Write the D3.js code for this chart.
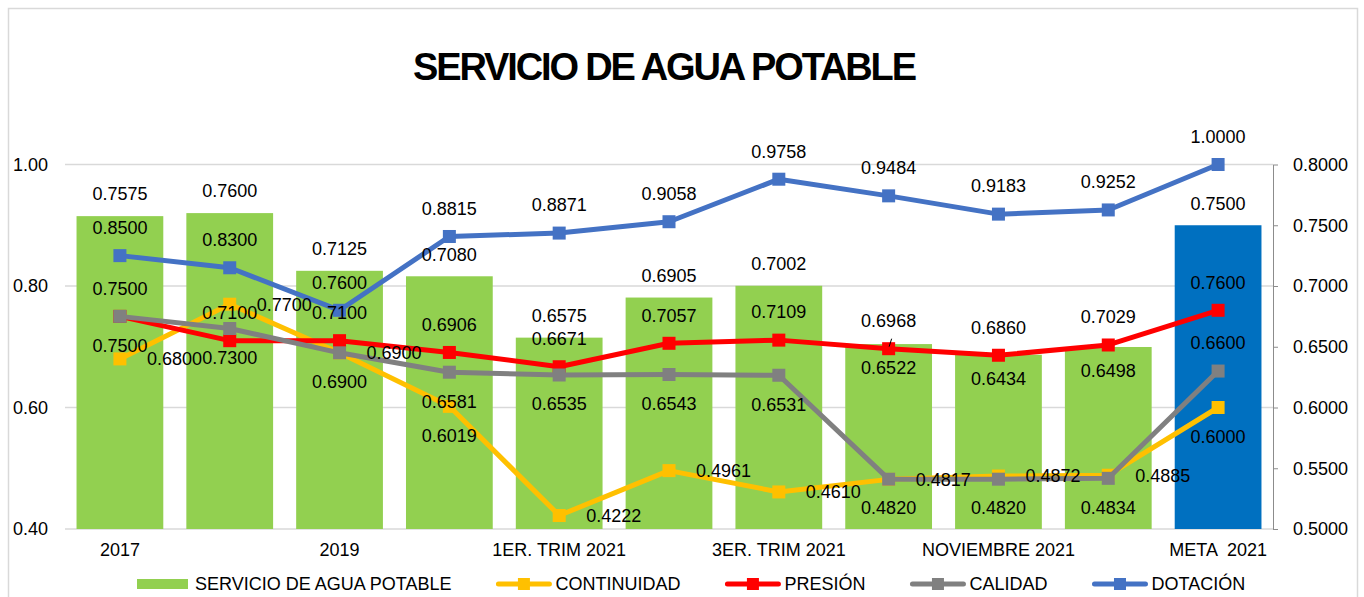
<!DOCTYPE html>
<html>
<head>
<meta charset="utf-8">
<script src="https://cdn.jsdelivr.net/npm/d3@7"></script>
<style>
    body { margin: 0; background: #fff; }
    svg { display: block; font-family: "Liberation Sans", Arial, sans-serif; }
</style>
</head>
<body>
<svg id="chart" width="1364" height="597"></svg>
<script>
const categories = ["2017", "2018", "2019", "2020", "1ER. TRIM 2021", "2DO. TRIM 2021",
    "3ER. TRIM 2021", "OCTUBRE 2021", "NOVIEMBRE 2021", "DICIEMBRE 2021", "META  2021"];

const servicio   = [0.7575, 0.7600, 0.7125, 0.7080, 0.6575, 0.6905, 0.7002, 0.6522, 0.6434, 0.6498, 0.7500];
const continuidad = [0.6800, 0.7700, 0.6900, 0.6019, 0.4222, 0.4961, 0.4610, 0.4817, 0.4872, 0.4885, 0.6000];
const presion    = [0.7500, 0.7100, 0.7100, 0.6906, 0.6671, 0.7057, 0.7109, 0.6968, 0.6860, 0.7029, 0.7600];
const calidad    = [0.7500, 0.7300, 0.6900, 0.6581, 0.6535, 0.6543, 0.6531, 0.4820, 0.4820, 0.4834, 0.6600];
const dotacion   = [0.8500, 0.8300, 0.7600, 0.8815, 0.8871, 0.9058, 0.9758, 0.9484, 0.9183, 0.9252, 1.0000];

const ticksLeft  = [0.40, 0.60, 0.80, 1.00];
const ticksRight = [0.50, 0.55, 0.60, 0.65, 0.70, 0.75, 0.80];

// where each data label sits: a = above, b = below, r = right, i = inside end
const placeBars = ["a", "a", "a", "a", "a", "a", "a", "i", "i", "i", "a"];
const placeLines = {
    CONTINUIDAD: ["r", "r", "b", "b", "r", "r", "r", "r", "r", "r", "b"],
    "PRESIÓN":   ["a", "a", "a", "a", "a", "a", "a", "a", "a", "a", "a"],
    CALIDAD:     ["b", "b", "r", "b", "b", "b", "b", "b", "b", "b", "a"],
    "DOTACIÓN":  ["a", "a", "a", "a", "a", "a", "a", "a", "a", "a", "a"]
};

const lineSeries = [
    { name: "CONTINUIDAD", values: continuidad, color: "#FFC000" },
    { name: "PRESIÓN", values: presion, color: "#FF0000" },
    { name: "CALIDAD", values: calidad, color: "#808080" },
    { name: "DOTACIÓN", values: dotacion, color: "#4472C4" }
];

const area = { left: 65, right: 1273, top: 164.5, bottom: 529 };
const fmt4 = d3.format(".4f");

const svg = d3.select("#chart");

svg.append("rect")
    .attr("x", 8.5).attr("y", 8.5)
    .attr("width", 1349).attr("height", 700)
    .attr("fill", "#fff")
    .attr("stroke", "#d9d9d9")
    .attr("stroke-width", 1.5);

svg.append("text")
    .attr("x", 665).attr("y", 80)
    .attr("text-anchor", "middle")
    .attr("font-size", 38)
    .attr("font-weight", "bold")
    .attr("textLength", 504)
    .attr("lengthAdjust", "spacing")
    .text("SERVICIO DE AGUA POTABLE");

const scX = d3.scaleBand()
    .domain(categories)
    .range([area.left, area.right])
    .paddingInner(0.21)
    .paddingOuter(0.105);
const cx = d => scX(d) + scX.bandwidth() / 2;

const scL = d3.scaleLinear().domain([0.4, 1.0]).range([area.bottom, area.top]);
const scR = d3.scaleLinear().domain([0.5, 0.8]).range([area.bottom, area.top]);

// gridlines
svg.append("g")
    .selectAll("line")
    .data(ticksLeft)
    .enter()
    .append("line")
    .attr("x1", area.left).attr("x2", area.right)
    .attr("y1", d => scL(d)).attr("y2", d => scL(d))
    .attr("stroke", "#d9d9d9")
    .attr("stroke-width", 1.5);

// left axis
const gL = svg.append("g")
    .attr("transform", `translate(51, 0)`)
    .call(d3.axisLeft(scL).tickValues(ticksLeft).tickFormat(d3.format(".2f")).tickSize(0).tickPadding(3));
gL.select(".domain").remove();

// right axis
const gR = svg.append("g")
    .attr("transform", `translate(${area.right}, 0)`)
    .call(d3.axisRight(scR).tickValues(ticksRight).tickFormat(fmt4).tickSizeInner(5).tickSizeOuter(0).tickPadding(15));
gR.select(".domain").attr("stroke", "#8c8c8c");
gR.selectAll(".tick line").attr("stroke", "#8c8c8c");

// bottom axis
const gB = svg.append("g")
    .attr("transform", `translate(0, ${area.bottom})`)
    .call(d3.axisBottom(scX).tickSize(0).tickPadding(14).tickFormat((d, i) => i % 2 === 0 ? d : ""));
gB.select(".domain").remove();

svg.selectAll(".tick text")
    .attr("font-family", "Liberation Sans, Arial, sans-serif")
    .attr("font-size", 18)
    .attr("fill", "#000")
    .style("white-space", "pre");

// bars
svg.append("g")
    .selectAll("rect")
    .data(servicio)
    .enter()
    .append("rect")
    .attr("x", (d, i) => scX(categories[i]))
    .attr("y", d => scR(d))
    .attr("width", scX.bandwidth())
    .attr("height", d => area.bottom - scR(d))
    .attr("fill", (d, i) => i === categories.length - 1 ? "#0070C0" : "#92D050");

// lines
const lineGen = d3.line()
    .x((d, i) => cx(categories[i]))
    .y(d => scL(d));

for (let s of lineSeries) {
    const g = svg.append("g");
    g.append("path")
        .datum(s.values)
        .attr("fill", "none")
        .attr("stroke", s.color)
        .attr("stroke-width", 5)
        .attr("stroke-linejoin", "round")
        .attr("d", lineGen);
    g.selectAll("rect")
        .data(s.values)
        .enter()
        .append("rect")
        .attr("x", (d, i) => cx(categories[i]) - 6.5)
        .attr("y", d => scL(d) - 6.5)
        .attr("width", 13)
        .attr("height", 13)
        .attr("fill", s.color);
}

// data labels
const labels = svg.append("g")
    .attr("font-size", 18)
    .attr("fill", "#000");

function addLabel(px, py, place, value, isBar) {
    let x = px, y = py, anchor = "middle";
    if (place === "a") y = py - (isBar ? 22 : 28);
    else if (place === "b") y = py + 29;
    else if (place === "i") y = py + 24;
    else if (place === "r") { x = px + 27; anchor = "start"; }
    labels.append("text")
        .attr("x", x).attr("y", y)
        .attr("dy", "0.35em")
        .attr("text-anchor", anchor)
        .text(fmt4(value));
}

servicio.forEach((v, i) => addLabel(cx(categories[i]), scR(v), placeBars[i], v, true));
for (let s of lineSeries) {
    s.values.forEach((v, i) => addLabel(cx(categories[i]), scL(v), placeLines[s.name][i], v, false));
}

// small leader line for the octubre presión label
labels.append("line")
    .attr("x1", cx(categories[7]) + 0.5).attr("y1", scL(presion[7]) - 2)
    .attr("x2", cx(categories[7]) + 3).attr("y2", scL(presion[7]) - 10)
    .attr("stroke", "#000")
    .attr("stroke-width", 1);

// legend
const legend = svg.append("g").attr("font-size", 18).attr("fill", "#000");
const legendItems = [{ name: "SERVICIO DE AGUA POTABLE", color: "#92D050", bar: true }].concat(lineSeries);
let lx = 137;
const ly = 584;
for (let item of legendItems) {
    let tx;
    if (item.bar) {
        legend.append("rect")
            .attr("x", lx).attr("y", ly - 5)
            .attr("width", 51).attr("height", 10)
            .attr("fill", item.color);
        tx = lx + 58;
    } else {
        legend.append("line")
            .attr("x1", lx + 2).attr("x2", lx + 53)
            .attr("y1", ly).attr("y2", ly)
            .attr("stroke", item.color)
            .attr("stroke-width", 5)
            .attr("stroke-linecap", "round");
        legend.append("rect")
            .attr("x", lx + 21.5).attr("y", ly - 6)
            .attr("width", 12).attr("height", 12)
            .attr("fill", item.color);
        tx = lx + 59;
    }
    const t = legend.append("text")
        .attr("x", tx).attr("y", ly + 6)
        .text(item.name);
    lx = tx + t.node().getComputedTextLength() + 45;
}
</script>
</body>
</html>
